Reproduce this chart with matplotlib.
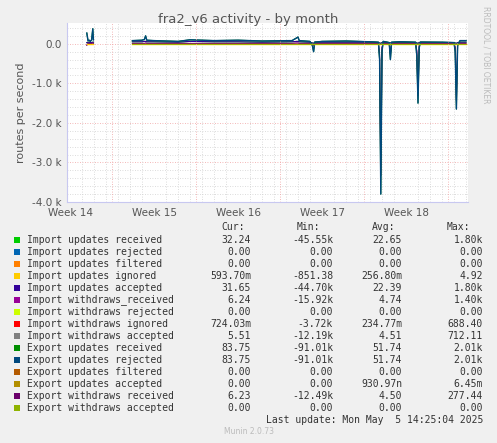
import matplotlib
matplotlib.use("Agg")
import matplotlib.pyplot as plt
import numpy as np
from matplotlib.ticker import MultipleLocator

# time in days since start of Week 14
seg_days = [1.4, 1.5, 1.6, 1.7, 1.8, 1.9, 1.95,
            5.2, 6.0, 6.2, 6.3, 6.4, 7.0, 9.0, 10.0, 12.0, 14.0, 16.0, 18.5, 18.9, 19.0, 19.1,
            20.0, 20.2, 20.3, 20.4, 21.0, 23.0, 25.0, 25.7, 25.8, 25.9, 26.0, 26.1,
            26.6, 26.7, 26.8, 27.5, 28.8, 28.9, 29.0, 29.1, 29.2, 31.0, 32.0, 32.1, 32.2, 32.3, 32.5, 33.0]
export_received = [270, 80, 90, 60, 100, 380, 100,
                   80, 90, 110, 200, 90, 80, 60, 100, 80, 90, 70, 80, 150, 170, 80,
                   60, -50, -200, 40, 60, 70, 50, 40, -400, -3800, -200, 60,
                   30, -400, 40, 50, 40, -300, -1500, -100, 40, 40, 30, -200, -1650, -50, 80, 80]
import_received = [30, 40, 40, 30, 30, 40, 40,
                   50, 50, 60, 60, 50, 50, 40, 60, 50, 50, 40, 50, 60, 60, 50,
                   40, 20, 10, 40, 40, 40, 40, 30, 20, 10, 30, 40,
                   30, 20, 30, 40, 30, 20, 10, 30, 40, 30, 30, 20, 10, 30, 40, 40]
withdrawals_received = [-40, 10, 10, 10, 10, 20, 10,
                        10, 10, 10, 20, 10, 10, 10, 10, 10, 10, 10, 10, 20, 20, 10,
                        10, -20, -50, 10, 10, 10, 10, 10, -300, -3700, -100, 10,
                        10, -300, 10, 10, 10, -200, -1450, -50, 10, 10, 10, -100, -1600, -20, 10, 10]

labels = ["Import updates received", "Import updates rejected", "Import updates filtered",
          "Import updates ignored", "Import updates accepted", "Import withdraws_received",
          "Import withdraws rejected", "Import withdraws ignored", "Import withdraws accepted",
          "Export updates received", "Export updates rejected", "Export updates filtered",
          "Export updates accepted", "Export withdraws received", "Export withdraws accepted"]
colors = ["#00CC00", "#0066B3", "#FF8000", "#FFCC00", "#330099", "#990099", "#CCFF00",
          "#FF0000", "#808080", "#008F00", "#00487D", "#B35A00", "#B38F00", "#6B006B", "#8FB300"]
cur = ["32.24", "0.00", "0.00", "593.70m", "31.65", "6.24", "0.00", "724.03m", "5.51",
       "83.75", "83.75", "0.00", "0.00", "6.23", "0.00"]
mins = ["-45.55k", "0.00", "0.00", "-851.38", "-44.70k", "-15.92k", "0.00", "-3.72k", "-12.19k",
        "-91.01k", "-91.01k", "0.00", "0.00", "-12.49k", "0.00"]
avgs = ["22.65", "0.00", "0.00", "256.80m", "22.39", "4.74", "0.00", "234.77m", "4.51",
        "51.74", "51.74", "0.00", "930.97n", "4.50", "0.00"]
maxs = ["1.80k", "0.00", "0.00", "4.92", "1.80k", "1.40k", "0.00", "688.40", "712.11",
        "2.01k", "2.01k", "0.00", "6.45m", "277.44", "0.00"]
week_labels = ["Week 14", "Week 15", "Week 16", "Week 17", "Week 18"]

fig = plt.figure(figsize=(4.97, 4.43), dpi=100, facecolor="#F0F0F0")
ax = fig.add_axes([67/497, 1-202/443, 401/497, 179/443])
ax.set_facecolor("white")

d = np.array(seg_days)
split = 7
def plot_series(vals, color, lw=1.0):
    v = np.array(vals, dtype=float)
    ax.plot(d[:split], v[:split], color=color, lw=lw)
    ax.plot(d[split:], v[split:], color=color, lw=lw)

plot_series(import_received, "#00CC00", 0.8)
plot_series(import_received, "#330099", 0.8)
plot_series([v * 0.9 for v in withdrawals_received], "#990099", 0.6)
plot_series([v * 0.9 for v in withdrawals_received], "#6B006B", 0.8)
plot_series(export_received, "#008F00", 0.8)
plot_series(export_received, "#00487D", 1.0)
ax.plot([d[0], d[split-1]], [0, 0], color="#FFCC00", lw=1)
ax.plot([d[split], d[-1]], [0, 0], color="#FFCC00", lw=1)
ax.plot([d[split], d[-1]], [0, 0], color="#8FB300", lw=0.6)

xmin = (67-70)/12
xmax = (468-70)/12
ax.set_xlim(xmin, xmax)
ax.set_ylim(-4000, 525)
ax.set_xticks([0, 7, 14, 21, 28])
ax.set_xticklabels(week_labels)
ax.set_yticks([0, -1000, -2000, -3000, -4000])
ax.set_yticklabels(["0.0", "-1.0 k", "-2.0 k", "-3.0 k", "-4.0 k"])
ax.xaxis.set_minor_locator(MultipleLocator(1))
ax.yaxis.set_minor_locator(MultipleLocator(200))
ax.grid(which="minor", color="#D0D0D0", ls=(0, (1, 2)), lw=0.6)
for x in np.arange(3.5, 33, 7):
    ax.axvline(x, color="#F0A0A0", ls=(0, (1, 2)), lw=0.6)
for y in [0, -1000, -2000, -3000]:
    ax.axhline(y, color="#F0A0A0", ls=(0, (1, 2)), lw=0.6, zorder=0)
ax.tick_params(which="both", length=0, labelsize=7.5, colors="#555555", pad=4)
for s in ["top", "right"]:
    ax.spines[s].set_visible(False)
for s in ["left", "bottom"]:
    ax.spines[s].set_color("#C8C8F0")
ax.set_ylabel("routes per second", fontsize=8, color="#555555")

fig.text(0.5, 1-19/443, "fra2_v6 activity - by month", ha="center", va="center", fontsize=9.5, color="#555555")
fig.text(486/497, 1-55/443, "RRDTOOL / TOBI OETIKER", rotation=270, ha="center", va="center",
         fontsize=5.5, color="#BBBBBB")

mono = "DejaVu Sans Mono"
fs = 7.0
tc = "#333333"
y0 = 227
for xr, h in [(245, "Cur:"), (320, "Min:"), (395, "Avg:"), (470, "Max:")]:
    fig.text(xr/497, 1-y0/443, h, ha="right", va="center", family=mono, fontsize=fs, color=tc)
for i, lab in enumerate(labels):
    y = 1 - (240 + i * 12) / 443
    fig.patches.append(plt.Rectangle((14/497, y - 3/443), 6/497, 6/443, transform=fig.transFigure,
                                     facecolor=colors[i], edgecolor="none"))
    fig.text(27/497, y, lab, ha="left", va="center", family=mono, fontsize=fs, color=tc)
    fig.text(251/497, y, cur[i], ha="right", va="center", family=mono, fontsize=fs, color=tc)
    fig.text(333/497, y, mins[i], ha="right", va="center", family=mono, fontsize=fs, color=tc)
    fig.text(402/497, y, avgs[i], ha="right", va="center", family=mono, fontsize=fs, color=tc)
    fig.text(483/497, y, maxs[i], ha="right", va="center", family=mono, fontsize=fs, color=tc)
fig.text(483/497, 1-420/443, "Last update: Mon May  5 14:25:04 2025", ha="right", va="center",
         family=mono, fontsize=fs, color=tc)
fig.text(0.5, 1-432/443, "Munin 2.0.73", ha="center", va="center", fontsize=5.5, color="#BBBBBB")

fig.savefig("out.png", dpi=100, facecolor=fig.get_facecolor())
